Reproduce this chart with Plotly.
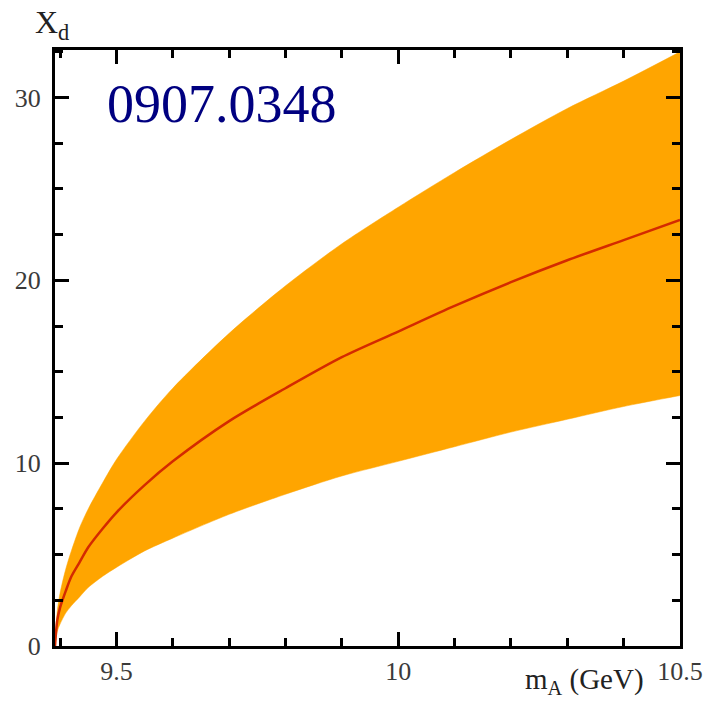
import plotly.graph_objects as go

# m_A values (GeV) at which the curves were read
m_A = [9.391, 9.395, 9.40, 9.41, 9.42, 9.435, 9.45, 9.475, 9.50, 9.55, 9.60, 9.70,
       9.80, 9.90, 10.00, 10.10, 10.20, 10.30, 10.40, 10.50]
# central curve (red line)
x_d_central = [0.0, 1.4, 2.1, 3.0, 3.8, 4.6, 5.4, 6.4, 7.3, 8.8, 10.1, 12.3,
               14.1, 15.8, 17.2, 18.6, 19.9, 21.1, 22.2, 23.3]
# upper edge of the orange band
x_d_upper = [0.0, 1.9, 2.9, 4.2, 5.2, 6.5, 7.5, 8.9, 10.2, 12.3, 14.1, 17.1,
             19.7, 22.0, 24.0, 25.9, 27.7, 29.4, 30.9, 32.5]
# lower edge of the orange band
x_d_lower = [0.0, 0.8, 1.2, 1.8, 2.2, 2.7, 3.2, 3.8, 4.3, 5.2, 5.9, 7.2,
             8.3, 9.3, 10.1, 10.9, 11.7, 12.4, 13.1, 13.7]

x_ticks = [9.5, 10, 10.5]
x_tick_text = ["9.5", "10", "10.5"]
y_ticks = [0, 10, 20, 30]
y_tick_text = ["0", "10", "20", "30"]

SERIF = "Liberation Serif, Times New Roman, serif"
ORANGE = "#FFA500"

fig = go.Figure()
fig.add_trace(go.Scatter(
    x=m_A, y=x_d_upper, mode="lines",
    line=dict(width=0.5, color=ORANGE, shape="spline", smoothing=0.8),
    hoverinfo="skip", showlegend=False,
))
fig.add_trace(go.Scatter(
    x=m_A, y=x_d_lower, mode="lines", fill="tonexty", fillcolor=ORANGE,
    line=dict(width=0.5, color=ORANGE, shape="spline", smoothing=0.8),
    hoverinfo="skip", showlegend=False,
))
fig.add_trace(go.Scatter(
    x=m_A, y=x_d_central, mode="lines",
    line=dict(color="#D42A00", width=2.5, shape="spline", smoothing=0.8),
    showlegend=False,
))

axis_common = dict(
    showline=True, linecolor="black", linewidth=3, mirror="ticks",
    ticks="inside", ticklen=14, tickwidth=3, tickcolor="black",
    showgrid=False, zeroline=False,
    tickfont=dict(family=SERIF, size=26, color="#3a3a3a"),
)

fig.update_layout(
    width=715, height=702,
    margin=dict(l=55, r=27, t=50, b=56),
    paper_bgcolor="white", plot_bgcolor="white",
    xaxis=dict(range=[9.391, 10.5], tickvals=x_ticks, ticktext=x_tick_text,
               minor=dict(ticks="inside", ticklen=8, tickwidth=2.5, tickcolor="black", dtick=0.1, tick0=9.4),
               ticklabelstandoff=0,
               **axis_common),
    yaxis=dict(range=[0, 32.6], tickvals=y_ticks, ticktext=y_tick_text,
               minor=dict(ticks="inside", ticklen=8, tickwidth=2.5, tickcolor="black", dtick=2.5, tick0=0),
               ticklabelstandoff=6,
               **axis_common),
    annotations=[
        dict(text="0907.0348", xref="paper", yref="paper", x=0.08, y=0.91,
             xanchor="left", yanchor="middle", showarrow=False,
             font=dict(family=SERIF, size=54, color="#000080")),
        dict(text="X<sub>d</sub>", xref="paper", yref="paper", x=-0.035, y=1.005,
             xanchor="left", yanchor="bottom", showarrow=False,
             font=dict(family=SERIF, size=32, color="#222222")),
        dict(text="m<sub>A</sub> (GeV)", xref="paper", yref="paper", x=0.945, y=-0.092,
             xanchor="right", yanchor="bottom", showarrow=False,
             font=dict(family=SERIF, size=29, color="#222222")),
    ],
)

fig.write_html("out.html")
